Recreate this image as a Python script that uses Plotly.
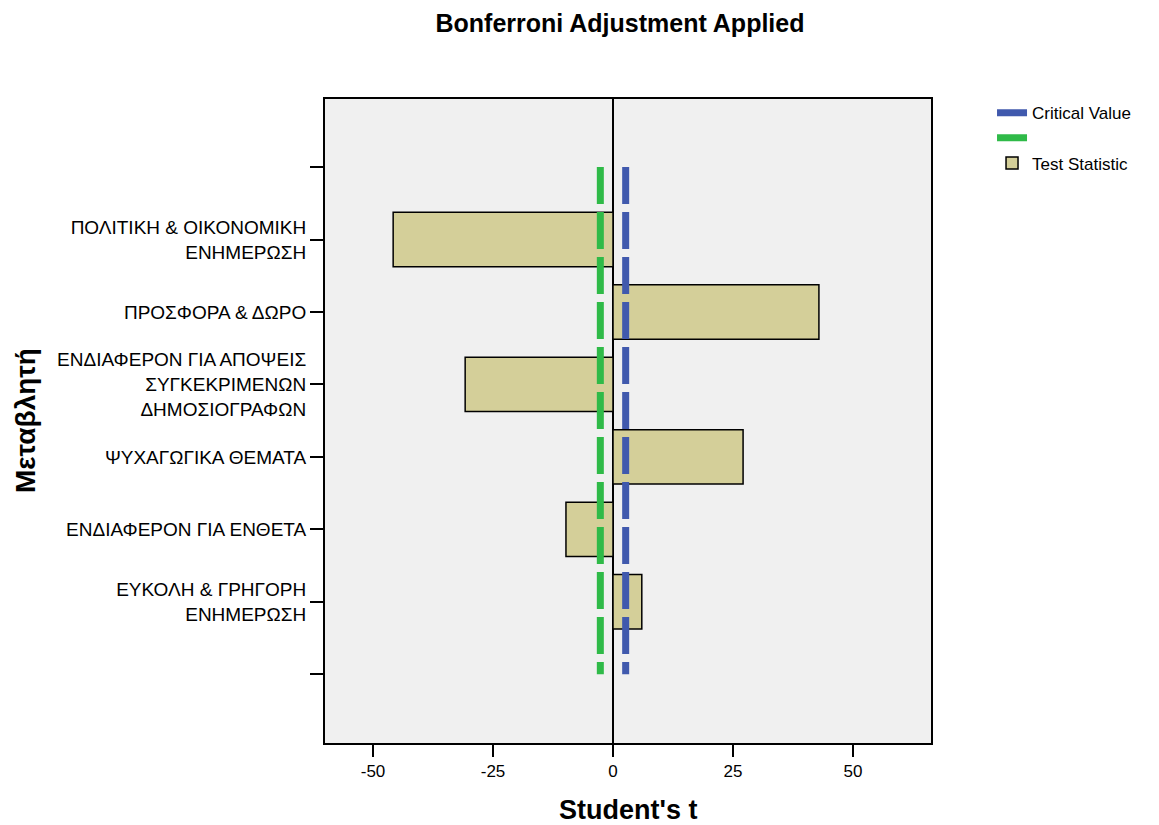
import plotly.graph_objects as go

categories = [
    "ΠΟΛΙΤΙΚΗ & ΟΙΚΟΝΟΜΙΚΗ<br>ΕΝΗΜΕΡΩΣΗ",
    "ΠΡΟΣΦΟΡΑ & ΔΩΡΟ",
    "ΕΝΔΙΑΦΕΡΟΝ ΓΙΑ ΑΠΟΨΕΙΣ<br>ΣΥΓΚΕΚΡΙΜΕΝΩΝ<br>ΔΗΜΟΣΙΟΓΡΑΦΩΝ",
    "ΨΥΧΑΓΩΓΙΚΑ ΘΕΜΑΤΑ",
    "ΕΝΔΙΑΦΕΡΟΝ ΓΙΑ ΕΝΘΕΤΑ",
    "ΕΥΚΟΛΗ & ΓΡΗΓΟΡΗ<br>ΕΝΗΜΕΡΩΣΗ",
]
test_statistic = [-45.8, 42.9, -30.8, 27.1, -9.8, 6.0]
critical_upper = 2.64
critical_lower = -2.64
x_tickvals = [-50, -25, 0, 25, 50]
x_ticktext = ["-50", "-25", "0", "25", "50"]
pad_top = " "
pad_bottom = "  "
category_order = [pad_top] + categories + [pad_bottom]

font = "Liberation Sans, Arial, sans-serif"

# figure is drawn offset by the page margin; sizes chosen so screen positions match
W, H = 1152, 819
L, T, PW, PH = 317, 91, 606, 644

fig = go.Figure()
fig.add_trace(go.Bar(
    y=categories, x=test_statistic, orientation="h", width=0.75,
    marker=dict(color="#d4cf99", line=dict(color="black", width=1.5)),
    name="Test Statistic", legendrank=3,
))
fig.add_trace(go.Scatter(
    x=[critical_upper, critical_upper], y=[pad_top, pad_bottom], mode="lines",
    line=dict(color="#4059ad", width=7, dash="37px,8px"),
    name="Critical Value", legendrank=1,
))
fig.add_trace(go.Scatter(
    x=[critical_lower, critical_lower], y=[pad_top, pad_bottom], mode="lines",
    line=dict(color="#2fba48", width=7, dash="37px,8px"),
    name=" ", legendrank=2,
))

fig.update_layout(
    width=W, height=H,
    margin=dict(l=L, r=W - L - PW, t=T, b=H - T - PH, autoexpand=False),
    paper_bgcolor="white", plot_bgcolor="#f0f0f0",
    font=dict(family=font, size=17, color="black"),
    title=dict(text="<b>Bonferroni Adjustment Applied</b>", x=612 / W, xanchor="center",
               y=1 - 15 / H, yanchor="middle", font=dict(size=25)),
    legend=dict(x=1.1007, y=1.006, yanchor="top", xanchor="left",
                font=dict(size=17), bgcolor="rgba(0,0,0,0)"),
    showlegend=True,
    annotations=[
        dict(text="<b>Μεταβλητή</b>", textangle=-90, xref="paper", yref="paper",
             x=(17 - L) / PW, y=0.5, xanchor="center", yanchor="middle",
             showarrow=False, font=dict(size=28)),
        dict(text="<b>Student's t</b>", xref="paper", yref="paper",
             x=0.5, y=(T + PH - 802) / PH, xanchor="center", yanchor="middle",
             showarrow=False, font=dict(size=27)),
    ],
)
fig.update_xaxes(
    range=[-60, 66.25], tickvals=x_tickvals, ticktext=x_ticktext,
    ticks="outside", ticklen=12, tickwidth=2, tickcolor="black",
    showline=True, linecolor="black", linewidth=2, mirror=True,
    showgrid=False, zeroline=True, zerolinecolor="black", zerolinewidth=2,
    tickfont=dict(size=17), automargin=False,
)
fig.update_yaxes(
    type="category", categoryorder="array", categoryarray=category_order,
    range=[7.95, -0.94],
    ticks="outside", ticklen=13, tickwidth=2, tickcolor="black",
    showline=True, linecolor="black", linewidth=2, mirror=True,
    showgrid=False, tickfont=dict(size=19), automargin=False,
)
fig.write_html("out.html")
